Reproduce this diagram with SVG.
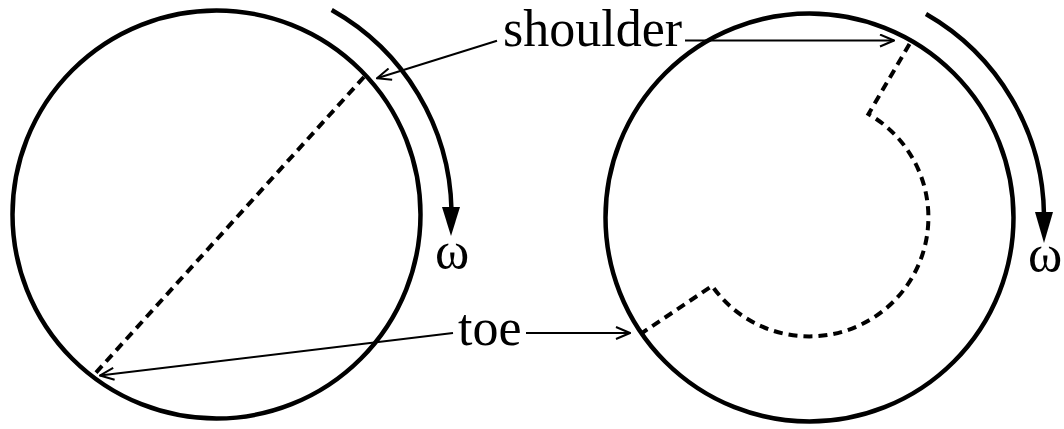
<svg xmlns="http://www.w3.org/2000/svg" width="1064" height="429" viewBox="0 0 1064 429">
<style>
.drum{fill:none;stroke:#000;stroke-width:4.5}
.charge{fill:none;stroke:#000;stroke-width:4;stroke-dasharray:9 6}
.rot{fill:none;stroke:#000;stroke-width:4.5}
.lead{fill:none;stroke:#000;stroke-width:2}
.lbl{font-family:"Liberation Serif","Times New Roman",serif;font-size:52px;fill:#000}
</style>
<defs>
<marker id="open" viewBox="0 0 16 14" refX="15" refY="7" markerWidth="16" markerHeight="14" markerUnits="userSpaceOnUse" orient="auto">
<path d="M1,1 L15,7 L1,13" fill="none" stroke="#000" stroke-width="2"/>
</marker>
</defs>
<rect width="1064" height="429" fill="#fff"/>
<g id="drum-left">
<circle class="drum" cx="216.5" cy="214.5" r="204"/>
<line class="charge" x1="364" y1="77" x2="92" y2="377"/>
<path class="rot" d="M331.7,10 A235,235 0 0 1 451.5,210"/>
<polygon points="442,207 460,207 451,236" fill="#000"/>
<text class="lbl" x="452" y="268" text-anchor="middle" font-size="54">ω</text>
</g>
<g id="drum-right">
<circle class="drum" cx="809.5" cy="217.5" r="204"/>
<path class="charge" d="M909.5,44 L868.5,114.1 A119,119 0 1 1 712.1,285.9 L642,333"/>
<path class="rot" d="M926,14 A234.5,234.5 0 0 1 1044,215"/>
<polygon points="1035,212 1053,212 1044,243" fill="#000"/>
<text class="lbl" x="1045" y="271" text-anchor="middle" font-size="54">ω</text>
</g>
<g id="label-shoulder">
<text class="lbl" x="503" y="46">shoulder</text>
</g>
<g id="label-toe">
<text class="lbl" x="458" y="345">toe</text>
</g>
<g id="connectors">
<line class="lead" x1="497" y1="40.7" x2="377" y2="78.3" marker-end="url(#open)"/>
<line class="lead" x1="685" y1="40.5" x2="894" y2="40.5" marker-end="url(#open)"/>
<line class="lead" x1="453" y1="333" x2="100" y2="375.5" marker-end="url(#open)"/>
<line class="lead" x1="526" y1="333" x2="630" y2="333" marker-end="url(#open)"/>
</g>
</svg>
